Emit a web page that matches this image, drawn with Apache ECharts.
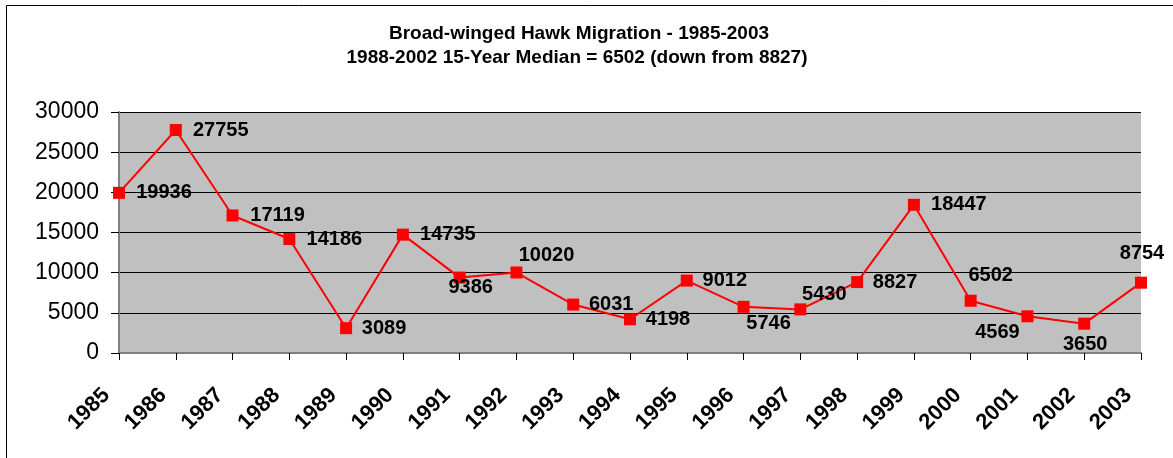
<!DOCTYPE html>
<html><head><meta charset="utf-8">
<script src="https://cdn.jsdelivr.net/npm/echarts@6/dist/echarts.min.js"></script>
<style>html,body{margin:0;padding:0;background:#fff}#c{width:1173px;height:458px}</style>
</head><body><div id="c"></div>
<script>
const years = ['1985','1986','1987','1988','1989','1990','1991','1992','1993','1994','1995','1996','1997','1998','1999','2000','2001','2002','2003'];
const counts = [19936,27755,17119,14186,3089,14735,9386,10020,6031,4198,9012,5746,5430,8827,18447,6502,4569,3650,8754];
const titleLines = ['Broad-winged Hawk Migration - 1985-2003','1988-2002 15-Year Median = 6502 (down from 8827)'];
const yTicks = [0,5000,10000,15000,20000,25000,30000];
// label placement (pixel offsets of label centre from the marker), styling only
const labelOffsets = [[45,0],[45,0],[45,0],[45,0],[38,0],[45,0],[11,10],[30,-17],[38,0],[38,0],[38,0],[25,17],[24,-15],[38,0],[45,0],[20,-25],[-30,16],[1,21],[1,-29]];

const FONT = 'Liberation Sans, Arial, sans-serif';
const seriesData = counts.map((v,i)=>({value:v,label:{position:'inside',offset:labelOffsets[i]}}));
const chart = echarts.init(document.getElementById('c'));
chart.setOption({
  animation:false,
  backgroundColor:'#fff',
  textStyle:{fontFamily:FONT},
  graphic:[
    {type:'rect',shape:{x:6.5,y:5.5,width:1200,height:500},style:{fill:'none',stroke:'#000',lineWidth:1},silent:true,z:-1},
    {type:'text',x:579,y:34,style:{text:titleLines[0],font:'bold 19px '+FONT,fill:'#000',textAlign:'center',textVerticalAlign:'middle'}},
    {type:'text',x:577,y:58,style:{text:titleLines[1],font:'bold 19px '+FONT,fill:'#000',textAlign:'center',textVerticalAlign:'middle'}}
  ],
  grid:{left:119,top:112,width:1022,height:241,backgroundColor:'#C0C0C0',show:true,borderWidth:0},
  xAxis:{type:'category',data:years,boundaryGap:false,
    axisLine:{lineStyle:{color:'#808080',width:2}},
    axisTick:{show:true,length:7,lineStyle:{color:'#000'}},
    axisLabel:{rotate:45,fontSize:22,fontWeight:'bold',color:'#000',margin:26,padding:[0,18,0,0],interval:0,fontFamily:FONT}},
  yAxis:{type:'value',min:yTicks[0],max:yTicks[yTicks.length-1],interval:5000,
    axisLine:{show:true,lineStyle:{color:'#808080',width:2}},
    axisTick:{show:true,length:8,lineStyle:{color:'#000'}},
    splitLine:{lineStyle:{color:'#000',width:1}},
    axisLabel:{fontSize:23,color:'#000',margin:20,fontFamily:FONT,formatter:v=>String(v)}},
  series:[{type:'line',data:seriesData,symbol:'rect',symbolSize:12,
    lineStyle:{color:'#FF0000',width:2},itemStyle:{color:'#FF0000'},
    label:{show:true,fontSize:20,fontWeight:'bold',color:'#000',fontFamily:FONT}}]
});
</script></body></html>
